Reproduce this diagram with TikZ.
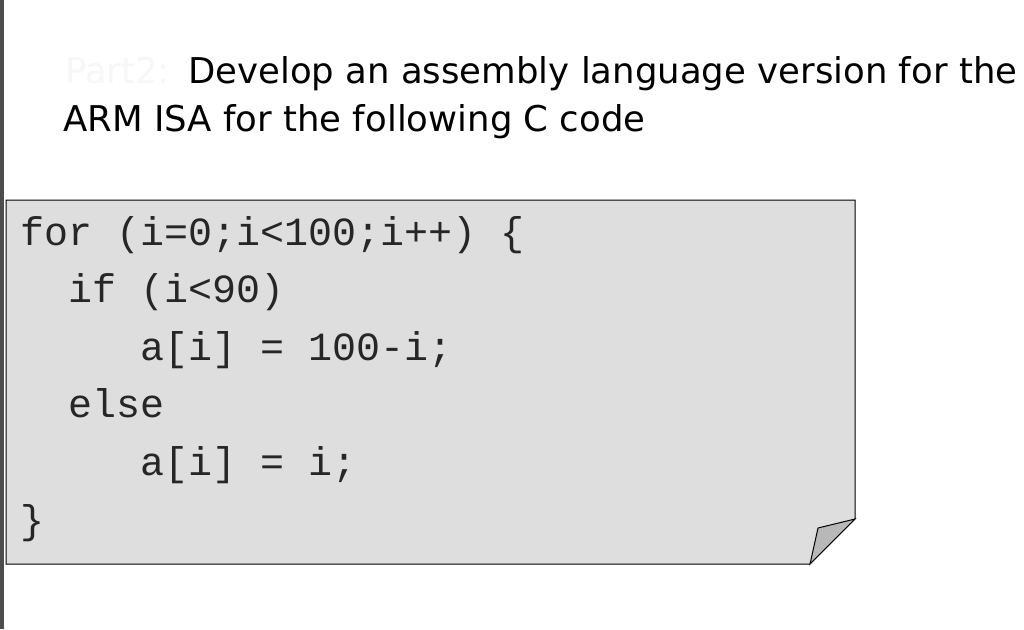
\documentclass[tikz,border=0pt]{standalone}
\usepackage{fontspec}
\setmainfont{DejaVu Sans}
\newfontfamily\codefont{Liberation Mono}
\begin{document}
\begin{tikzpicture}[x=1pt,y=-1pt,
  title/.style={anchor=base west,inner sep=0pt,font=\fontsize{35.5}{40}\selectfont},
  code/.style={anchor=base west,inner sep=0pt,font=\codefont\fontsize{40}{40}\selectfont,text=black!85}]
\useasboundingbox (0,0) rectangle (1024,629);
\fill[white] (0,0) rectangle (1024,629);
\fill[black!70] (0,0) rectangle (4,629);
\node[title,text=black!3] (p) at (65,83) {Part2:};
\node[title] (t1) at (188,83) {Develop an assembly language version for the};
\node[title] (t2) at (63,131) {ARM ISA for the following C code};
\draw[fill=black!13,line width=1pt] (6,200) -- (855,200) -- (855,519) -- (810,564) -- (6,564) -- cycle;
\draw[fill=black!28,line width=1pt] (855,519) -- (818,528) -- (810,564) -- cycle;
\node[code] (c1) at (20,245) {for (i=0;i<100;i++) \{};
\node[code] (c2) at (68,302) {if (i<90)};
\node[code] (c3) at (140,360) {a[i] = 100-i;};
\node[code] (c4) at (68,417) {else};
\node[code] (c5) at (140,475) {a[i] = i;};
\node[code] (c6) at (20,533) {\}};
\end{tikzpicture}
\end{document}
